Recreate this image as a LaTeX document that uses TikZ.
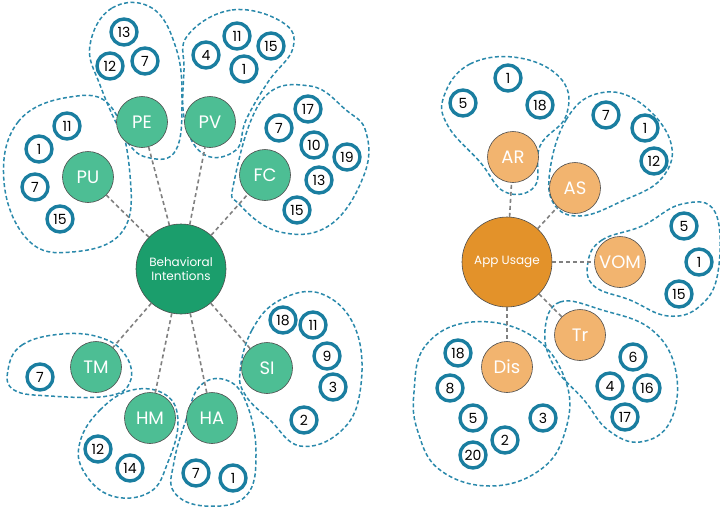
\documentclass[tikz,border=0pt]{standalone}
\usepackage{fontspec}
\setmainfont{Poppins}
\begin{document}
\begin{tikzpicture}[x=1pt,y=-1pt,
  big/.style={circle,draw=black!70,line width=0.6pt,minimum size=90pt,inner sep=0pt,text=white,font=\fontsize{12}{14}\selectfont,align=center},
  mid/.style={circle,draw=black!70,line width=0.6pt,minimum size=51pt,inner sep=0pt,text=white,font=\fontsize{18}{20}\selectfont},
  gr/.style={fill=gmid},orr/.style={fill=omid},
  sm/.style={circle,draw=ring,line width=3.4pt,minimum size=26pt,inner sep=0pt,fill=white,font=\fontsize{14}{14}\selectfont},
  blob/.style={draw=blobc,dashed,line width=1.5pt,dash pattern=on 4pt off 2.5pt},
  con/.style={draw=gray,dashed,line width=1.6pt,dash pattern=on 4pt off 3pt}]
\definecolor{gbig}{HTML}{1B9E6C}
\definecolor{gmid}{HTML}{4DBE94}
\definecolor{obig}{HTML}{E3922A}
\definecolor{omid}{HTML}{F2B46F}
\definecolor{ring}{HTML}{1A7EA0}
\definecolor{blobc}{HTML}{2A89AB}
\useasboundingbox (0,0) rectangle (720,512);
% blobs
\draw[blob] plot[smooth cycle,tension=0.7] coordinates {(4,182)(18,122)(70,97)(112,108)(130,175)(122,232)(72,252)(28,240)};
\draw[blob] plot[smooth cycle,tension=0.7] coordinates {(90,45)(112,8)(152,8)(176,48)(182,100)(176,150)(150,158)(126,140)(100,85)};
\draw[blob] plot[smooth cycle,tension=0.7] coordinates {(188,35)(232,10)(282,22)(293,48)(268,82)(246,120)(236,150)(205,155)(185,122)(184,70)};
\draw[blob] plot[smooth cycle,tension=0.7] coordinates {(234,182)(262,100)(310,86)(346,110)(366,132)(364,175)(330,225)(280,232)(240,205)};
\draw[blob] plot[smooth cycle,tension=0.7] coordinates {(8,370)(22,345)(62,334)(102,338)(126,356)(130,382)(108,396)(50,396)(14,390)};
\draw[blob] plot[smooth cycle,tension=0.7] coordinates {(80,442)(100,410)(132,390)(166,395)(178,422)(168,462)(150,492)(112,496)(84,472)};
\draw[blob] plot[smooth cycle,tension=0.7] coordinates {(174,462)(186,420)(200,386)(226,380)(246,402)(256,452)(246,496)(205,506)(174,492)};
\draw[blob] plot[smooth cycle,tension=0.7] coordinates {(240,372)(252,330)(280,300)(322,294)(356,330)(360,392)(340,432)(300,446)(270,420)(246,396)};
\draw[blob] plot[smooth cycle,tension=0.7] coordinates {(444,96)(470,64)(520,58)(562,80)(566,116)(540,146)(535,186)(505,192)(480,162)(448,126)};
\draw[blob] plot[smooth cycle,tension=0.7] coordinates {(550,170)(566,120)(596,94)(636,100)(670,140)(662,178)(620,202)(580,216)(554,204)};
\draw[blob] plot[smooth cycle,tension=0.7] coordinates {(588,262)(602,240)(642,226)(682,204)(715,212)(718,272)(700,306)(668,316)(630,300)(594,286)};
\draw[blob] plot[smooth cycle,tension=0.7] coordinates {(545,330)(560,302)(602,310)(652,330)(676,372)(670,422)(640,442)(608,430)(584,400)(554,366)};
\draw[blob] plot[smooth cycle,tension=0.7] coordinates {(414,392)(426,345)(472,322)(532,336)(566,382)(565,432)(540,470)(490,486)(440,470)(418,432)};
% main nodes
\node[big,fill=gbig] (BI) at (181,269) {Behavioral\\Intentions};
\node[big,fill=obig] (AU) at (507,262) {App Usage};
\foreach \n/\t/\x/\y in {PU/PU/88/177,PE/PE/142/122,PV/PV/210/122,FC/FC/265/175,TM/TM/96/367,HM/HM/150/418,HA/HA/212/418,SI/SI/267/368}
  \node[mid,gr] (\n) at (\x,\y) {\t};
\foreach \n/\t/\x/\y in {AR/AR/513/157,AS/AS/575/188,VOM/VOM/620/262,Tr/Tr/580/335,Dis/Dis/507/367}
  \node[mid,orr] (\n) at (\x,\y) {\t};
\foreach \n in {PU,PE,PV,FC,TM,HM,HA,SI} \draw[con] (BI) -- (\n);
\foreach \n in {AR,AS,VOM,Tr,Dis} \draw[con] (AU) -- (\n);
% small circles
\foreach \i/\t/\x/\y in {a1/11/67/126,a2/1/39/149,a3/7/35/187,a4/15/60/219,
 b1/13/124/32,b2/12/110/66,b3/7/145/61,
 c1/4/206/55,c2/11/237/36,c3/15/271/46,c4/1/244/69,
 d1/17/308/109,d2/7/279/128,d3/10/314/145,d4/19/347/157,d5/13/319/180,d6/15/297/210,
 e1/7/40/377,f1/12/98/449,f2/14/130/468,g1/7/196/473,g2/1/233/478,
 h1/18/283/320,h2/11/313/325,h3/9/327/356,h4/3/333/387,h5/2/304/420,
 i1/5/463/103,i2/1/508/78,i3/18/540/105,
 j1/7/606/115,j2/1/645/128,j3/12/654/161,
 k1/5/684/226,k2/1/699/262,k3/15/679/294,
 l1/6/633/357,l2/4/610/386,l3/16/647/388,l4/17/625/417,
 m1/18/458/353,m2/8/450/388,m3/5/473/418,m4/2/505/440,m5/3/543/418,m6/20/473/455}
  \node[sm] (\i) at (\x,\y) {\t};
\end{tikzpicture}
\end{document}
